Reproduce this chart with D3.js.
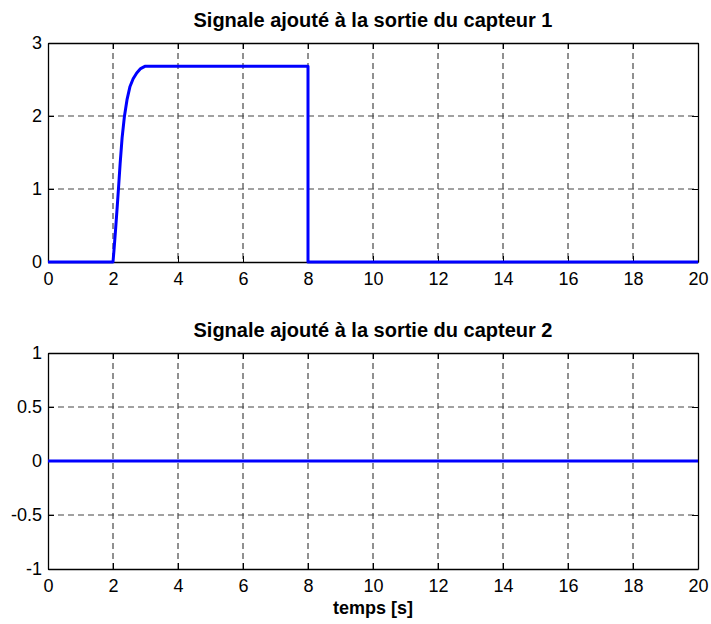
<!DOCTYPE html>
<html>
<head>
<meta charset="utf-8">
<script src="https://cdn.jsdelivr.net/npm/d3@7"></script>
<style>
  body { margin: 0; background: #fff; }
  svg text { font-family: "Liberation Sans", Arial, sans-serif; }
</style>
</head>
<body>
<svg id="chart" width="711" height="624"></svg>
<script>
// signal 1
var time1 = [0, 2, 2.03, 2.08, 2.13, 2.18, 2.22, 2.28, 2.35, 2.43, 2.52, 2.62, 2.73, 2.85, 2.98, 8, 8, 20];
var sig1  = [0, 0, 0.16, 0.45, 0.76, 1.08, 1.35, 1.7, 1.99, 2.22, 2.40, 2.51, 2.59, 2.65, 2.68, 2.68, 0, 0];
// signal 2
var time2 = [0, 20];
var sig2  = [0, 0];

var xTicks = [0, 2, 4, 6, 8, 10, 12, 14, 16, 18, 20];
var yTicks1 = [0, 1, 2, 3];
var yTicks2 = [-1, -0.5, 0, 0.5, 1];

var titles = ["Signale ajouté à la sortie du capteur 1", "Signale ajouté à la sortie du capteur 2"];
var xLabel = "temps [s]";

var svg = d3.select("#chart");

function panel(top, bottom, yDomain, yTicks, t, v, title, xlab) {
    var left = 48, right = 698;
    var x = d3.scaleLinear().domain([0, 20]).range([left, right]);
    var y = d3.scaleLinear().domain(yDomain).range([bottom, top]);
    var g = svg.append("g");

    // grid
    g.selectAll(".vg").data(xTicks.slice(1, -1)).enter().append("line")
        .attr("x1", function(d) { return x(d); }).attr("x2", function(d) { return x(d); })
        .attr("y1", top).attr("y2", bottom)
        .attr("stroke", "#222").attr("stroke-width", 1).attr("stroke-dasharray", "6,4");
    g.selectAll(".hg").data(yTicks.slice(1, -1)).enter().append("line")
        .attr("x1", left).attr("x2", right)
        .attr("y1", function(d) { return y(d); }).attr("y2", function(d) { return y(d); })
        .attr("stroke", "#444").attr("stroke-width", 1).attr("stroke-dasharray", "6,4");

    // axes
    var fmt = function(d) { return String(d); };
    var ax = g.append("g").attr("transform", "translate(0," + bottom + ")")
        .call(d3.axisBottom(x).tickValues(xTicks).tickFormat(fmt).tickSizeInner(-6).tickSizeOuter(0).tickPadding(10));
    var axT = g.append("g").attr("transform", "translate(0," + top + ")")
        .call(d3.axisTop(x).tickValues(xTicks).tickFormat("").tickSizeInner(-6).tickSizeOuter(0));
    var ay = g.append("g").attr("transform", "translate(" + left + ",0)")
        .call(d3.axisLeft(y).tickValues(yTicks).tickFormat(fmt).tickSizeInner(-6).tickSizeOuter(0).tickPadding(6));
    var ayR = g.append("g").attr("transform", "translate(" + right + ",0)")
        .call(d3.axisRight(y).tickValues(yTicks).tickFormat("").tickSizeInner(-6).tickSizeOuter(0));
    [ax, axT, ay, ayR].forEach(function(a) {
        a.selectAll("path").attr("stroke", "#000").attr("stroke-width", 1.3);
        a.selectAll("line").attr("stroke", "#000");
        a.selectAll("text").attr("font-size", 18).attr("fill", "#000")
            .attr("font-family", "'Liberation Sans', Arial, sans-serif");
    });

    // line
    var pts = t.map(function(d, i) { return [d, v[i]]; });
    g.append("path").datum(pts)
        .attr("fill", "none").attr("stroke", "#0000ff").attr("stroke-width", 3)
        .attr("stroke-linejoin", "round")
        .attr("d", d3.line().x(function(d) { return x(d[0]); }).y(function(d) { return y(d[1]); }));

    g.append("text").attr("x", (left + right) / 2).attr("y", top - 16)
        .attr("text-anchor", "middle").attr("font-size", 20).attr("font-weight", "bold")
        .text(title);
    if (xlab) {
        g.append("text").attr("x", (left + right) / 2).attr("y", bottom + 45)
            .attr("text-anchor", "middle").attr("font-size", 18).attr("font-weight", "bold")
            .text(xlab);
    }
}

panel(43, 262, [0, 3], yTicks1, time1, sig1, titles[0], null);
panel(353, 569, [-1, 1], yTicks2, time2, sig2, titles[1], xLabel);
</script>
</body>
</html>
